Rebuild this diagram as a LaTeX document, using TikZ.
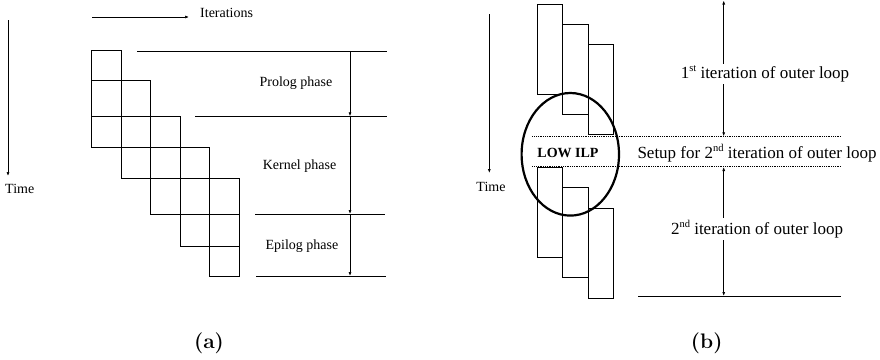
\documentclass[tikz,border=0pt]{standalone}
\usepackage{fontspec}
\usetikzlibrary{positioning,arrows.meta,shapes.geometric}
\newfontfamily\tnr{Liberation Serif}
\newcommand{\ord}[1]{\raisebox{0.42em}{\fontsize{10.5}{11}\selectfont #1}}
\tikzstyle{stage}=[draw, line width=0.8pt]
\tikzstyle{blk}=[draw, line width=0.8pt, minimum width=25.3pt, minimum height=90pt, inner sep=0pt, anchor=north west]
\tikzstyle{arr}=[-{Latex[length=4pt,width=3pt]}, line width=0.7pt]
\tikzstyle{darr}=[{Latex[length=4pt,width=3pt]}-{Latex[length=4pt,width=3pt]}, line width=0.7pt]
\tikzstyle{phase}=[line width=0.8pt]
\tikzstyle{dots}=[line width=0.6pt, dash pattern=on 1pt off 0.8pt]
\tikzstyle{lbl}=[font=\tnr\fontsize{14}{16}\selectfont, inner sep=1pt]
\tikzstyle{lblb}=[font=\tnr\fontsize{17}{19}\selectfont, fill=white, inner sep=2pt]
\tikzstyle{subcap}=[font=\fontsize{21}{24}\selectfont\bfseries]

\begin{document}
\begin{tikzpicture}[x=1pt,y=-1pt]
\useasboundingbox (0,0) rectangle (880,359);

%%%% (a) software pipelined loop
\coordinate (t0) at (8,20);
\coordinate (t1) at (8,176);
\draw[arr] (t0) -- (t1);
\node[lbl, anchor=west] at (4,189) (time) {Time};

\coordinate (it0) at (92,17);
\coordinate (it1) at (189,17);
\draw[arr] (it0) -- (it1);
\node[lbl, anchor=west] at (199,13) (iter) {Iterations};

% one column per iteration, three stages each
\foreach \c/\ya/\yb/\yc/\yd in {0/50/80.7/116.7/147, 1/80.7/116.7/147/178.3, 2/116.7/147/178.3/214, 3/147/178.3/214/246.3, 4/178.3/214/246.3/276}
{
  \draw[stage] ({91.7+29.5*\c},\ya) rectangle ({121.2+29.5*\c},\yd);
  \draw[stage] ({91.7+29.5*\c},\yb) -- ({121.2+29.5*\c},\yb);
  \draw[stage] ({91.7+29.5*\c},\yc) -- ({121.2+29.5*\c},\yc);
}

\coordinate (l1a) at (137,51.7);  \coordinate (l1b) at (387,51.7);
\coordinate (l2a) at (195,116.3); \coordinate (l2b) at (387,116.3);
\coordinate (l3a) at (255,214);   \coordinate (l3b) at (385,214);
\coordinate (l4a) at (256,276);   \coordinate (l4b) at (386,276);
\draw[phase] (l1a) -- (l1b);
\draw[phase] (l2a) -- (l2b);
\draw[phase] (l3a) -- (l3b);
\draw[phase] (l4a) -- (l4b);

\coordinate (p1) at (350,51.7);
\coordinate (p2) at (350,116.3);
\coordinate (p3) at (350,214);
\coordinate (p4) at (350,276);
\draw[arr] (p1) -- (p2);
\draw[arr] (p2) -- (p3);
\draw[arr] (p3) -- (p4);

\node[lbl] at (296,83) (prolog) {Prolog phase};
\node[lbl] at (299.5,166) (kernel) {Kernel phase};
\node[lbl] at (302,245.7) (epilog) {Epilog phase};

\node[subcap] at (209,343) (capa) {(a)};

%%%% (b) nested loop
\coordinate (s0) at (489.3,14);
\coordinate (s1) at (489.3,173);
\draw[arr] (s0) -- (s1);
\node[lbl] at (491,186.7) (timeb) {Time};

\node[blk] at (537,3.7) (r1) {};
\node[blk] at (562.3,24) (r2) {};
\node[blk] at (587.6,44.3) (r3) {};
\node[blk] at (537,167.3) (r4) {};
\node[blk] at (562.3,187.3) (r5) {};
\node[blk] at (587.6,208) (r6) {};

\coordinate (d1a) at (532.3,136.3); \coordinate (d1b) at (840.7,136.3);
\coordinate (d2a) at (532.3,166.7); \coordinate (d2b) at (840.7,166.7);
\draw[dots] (d1a) -- (d1b);
\draw[dots] (d2a) -- (d2b);

\coordinate (ba) at (638,296); \coordinate (bb) at (840.7,296);
\draw[phase] (ba) -- (bb);

\coordinate (o1) at (723.7,0.5);
\coordinate (o2) at (723.7,136.3);
\coordinate (o3) at (723.7,167);
\coordinate (o4) at (723.7,296);
\draw[darr] (o1) -- (o2);
\draw[darr] (o3) -- (o4);

\node[lblb] at (765,74) (first) {1\ord{st} iteration of outer loop};
\node[lblb] at (757,229.3) (second) {2\ord{nd} iteration of outer loop};
\node[lblb, fill=none] at (757,153.5) (setup) {Setup for 2\ord{nd} iteration of outer loop};

\node[lbl, font=\tnr\fontsize{14}{16}\selectfont\bfseries] at (568,152.7) (low) {LOW ILP};
\node[draw, ellipse, line width=2.2pt, minimum width=97.4pt, minimum height=122.6pt, inner sep=0pt] at (570.3,154.3) (ilp) {};

\node[subcap] at (706.7,343) (capb) {(b)};
\end{tikzpicture}
\end{document}
